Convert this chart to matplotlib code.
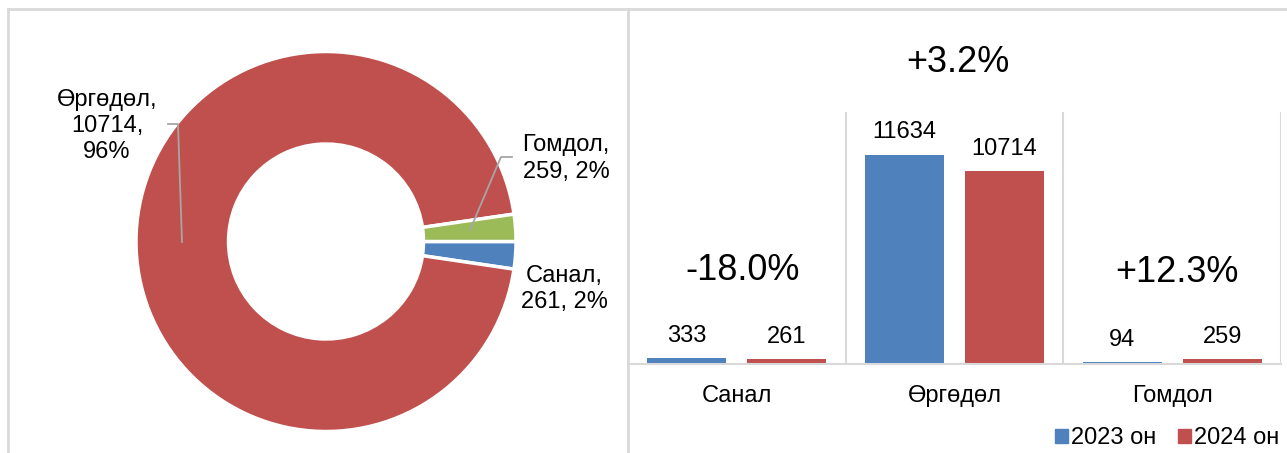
import numpy as np
import matplotlib
matplotlib.use('Agg')
import matplotlib.pyplot as plt
from matplotlib.lines import Line2D
from matplotlib.patches import Patch

plt.rcParams['font.family'] = ['Liberation Sans', 'DejaVu Sans']

# ---------------- data ----------------
categories = ['Санал', 'Өргөдөл', 'Гомдол']
values_2023 = [333, 11634, 94]
values_2024 = [261, 10714, 259]
change_labels = ['-18.0%', '+3.2%', '+12.3%']
pie_pct_labels = ['2%', '96%', '2%']
series_names = ['2023 он', '2024 он']

BLUE = '#4F81BD'
RED = '#C0504D'
GREEN = '#9BBB59'
GRID = '#D9D9D9'
LEADER = '#A6A6A6'

W, H = 1287, 453
fig = plt.figure(figsize=(W / 100, H / 100), dpi=100)


def fx(px):
    return px / W


def fy(py):
    return 1 - py / H


def add_axes_px(x0, y0, x1, y1):
    return fig.add_axes([x0 / W, 1 - y1 / H, (x1 - x0) / W, (y1 - y0) / H])


# ---------------- panel borders ----------------
for xs, ys in [((8, 8), (9, 453)), ((8, 1287), (9, 9)), ((628, 628), (9, 453))]:
    fig.add_artist(Line2D([fx(xs[0]), fx(xs[1])], [fy(ys[0]), fy(ys[1])],
                          transform=fig.transFigure, color=GRID, lw=2))

# ---------------- donut ----------------
pie_ax = add_axes_px(136, 51.5, 516, 431.5)
pie_ax.pie(values_2024, colors=[BLUE, RED, GREEN], startangle=0,
           counterclock=False, radius=1,
           wedgeprops=dict(width=0.487, edgecolor='white', linewidth=2.5))
pie_ax.set_xlim(-1, 1)
pie_ax.set_ylim(-1, 1)
pie_ax.set_aspect('auto')
pie_ax.axis('off')

pie_labels = [f'{c},\n{v}, {p}' for c, v, p in zip(categories, values_2024, pie_pct_labels)]
pie_labels[1] = f'{categories[1]},\n{values_2024[1]},\n{pie_pct_labels[1]}'
label_pos = [(564, 289), (107, 126), (566, 158.5)]
for txt, (px, py) in zip(pie_labels, label_pos):
    fig.text(fx(px), fy(py), txt, ha='center', va='center', fontsize=17,
             linespacing=1.25, color='black')

# leader lines
for pts in [[(168, 124), (178, 124), (182, 242)],
            [(512, 157), (501, 157), (470, 230)]]:
    fig.add_artist(Line2D([fx(p[0]) for p in pts], [fy(p[1]) for p in pts],
                          transform=fig.transFigure, color=LEADER, lw=1.3))

# ---------------- bars ----------------
ax = add_axes_px(628, 112, 1281, 364)
x = np.arange(len(categories))
bw = 0.363
off = 0.23
b1 = ax.bar(x - off, values_2023, bw, color=BLUE, label=series_names[0])
b2 = ax.bar(x + off, values_2024, bw, color=RED, label=series_names[1])
ax.bar_label(b1, padding=8, fontsize=17)
ax.bar_label(b2, padding=8, fontsize=17)
ax.set_xlim(-0.5, 2.5)
ax.set_ylim(0, 14000)
ax.set_yticks([])
ax.set_xticks(x)
ax.set_xticklabels(categories, fontsize=17)
ax.set_xticks([0.5, 1.5, 2.5], minor=True)
ax.grid(which='minor', axis='x', color=GRID, lw=1.5)
ax.tick_params(which='both', length=0)
ax.tick_params(axis='x', pad=15)
for s in ['left', 'top', 'right']:
    ax.spines[s].set_visible(False)
ax.spines['bottom'].set_color(GRID)
ax.spines['bottom'].set_linewidth(1.5)
ax.patch.set_visible(False)
ax.set_axisbelow(True)

change_pos = [(743, 270), (958, 63), (1177, 272)]
for txt, (px, py) in zip(change_labels, change_pos):
    fig.text(fx(px), fy(py), txt, ha='center', va='center', fontsize=26)

fig.legend(handles=[Patch(color=BLUE, label=series_names[0]),
                    Patch(color=RED, label=series_names[1])],
           loc='center', bbox_to_anchor=(fx(1167), fy(438)), ncol=2,
           frameon=False, fontsize=17, handlelength=0.55, handleheight=0.55,
           handletextpad=0.15, columnspacing=0.9, borderpad=0)

fig.savefig('out.png', dpi=100)
